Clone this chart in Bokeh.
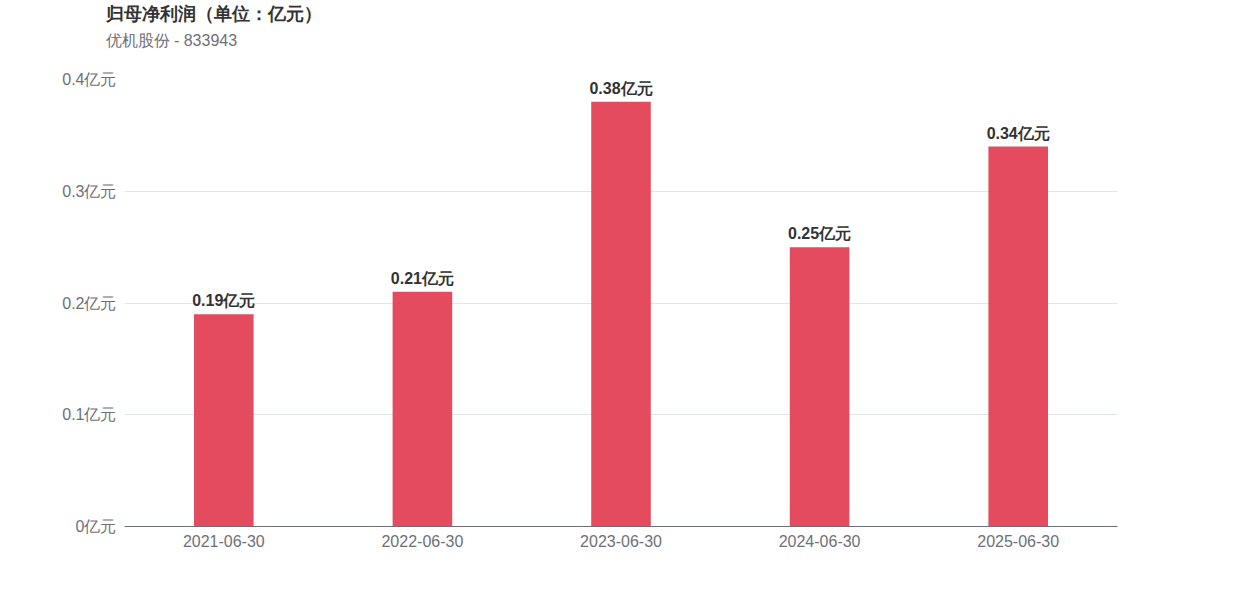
from bokeh.plotting import figure
from bokeh.models import FixedTicker, Title, ColumnDataSource, LabelSet
from bokeh.core.properties import value
from bokeh.embed import file_html
from bokeh.resources import INLINE

# Net profit attributable to parent company (unit: 100 million yuan)
periods = ["2021-06-30", "2022-06-30", "2023-06-30", "2024-06-30", "2025-06-30"]
profits = [0.19, 0.21, 0.38, 0.25, 0.34]
y_ticks = [0, 0.1, 0.2, 0.3, 0.4]
y_tick_labels = ["0亿元", "0.1亿元", "0.2亿元", "0.3亿元", "0.4亿元"]

FONT = "Liberation Sans"

source = ColumnDataSource(dict(
    period=periods,
    profit=profits,
    label=[f"{v:.2f}亿元" for v in profits],
))

p = figure(
    x_range=periods, y_range=(0, 0.4),
    width=1242, height=596,
    output_backend="svg", toolbar_location=None,
    min_border_left=124, min_border_right=125,
    min_border_top=79, min_border_bottom=70,
)
p.outline_line_color = None
p.background_fill_color = "white"
p.border_fill_color = "white"
p.x_range.range_padding = 0

p.vbar(x="period", top="profit", width=0.3, source=source,
       fill_color="#e54b5e", line_color=None)

p.add_layout(LabelSet(x="period", y="profit", text="label", source=source,
                      text_align="center", text_baseline="bottom", y_offset=5,
                      text_font=value(FONT), text_font_size="16px",
                      text_font_style="bold", text_color="#333333"))

# axes
p.yaxis.ticker = FixedTicker(ticks=y_ticks)
p.yaxis.major_label_overrides = {t: s for t, s in zip(y_ticks, y_tick_labels)}
p.yaxis.axis_line_color = None
p.yaxis.major_tick_line_color = None
p.yaxis.major_tick_out = 0
p.yaxis.major_tick_in = 0
p.yaxis.minor_tick_line_color = None
p.yaxis.major_label_standoff = 8
p.yaxis.major_label_text_font = FONT
p.yaxis.major_label_text_font_size = "16px"
p.yaxis.major_label_text_color = "#6e7079"

p.xaxis.axis_line_color = "#6e7079"
p.xaxis.axis_line_width = 1
p.xaxis.major_tick_line_color = None
p.xaxis.major_tick_out = 0
p.xaxis.major_tick_in = 0
p.xaxis.minor_tick_line_color = None
p.xaxis.major_label_standoff = 8
p.xaxis.major_label_text_font = FONT
p.xaxis.major_label_text_font_size = "16px"
p.xaxis.major_label_text_color = "#6e7079"

p.xgrid.grid_line_color = None
p.ygrid.grid_line_color = "#e0e6f1"

# titles, stacked outward from the plot area: blank spacer, subtitle, title
p.add_layout(Title(text=" ", text_font_size="10px", standoff=13), "above")
p.add_layout(Title(text="优机股份 - 833943", align="left", offset=-19,
                   text_font=FONT, text_font_size="16px",
                   text_font_style="normal", text_color="#6e7079",
                   standoff=10), "above")
p.add_layout(Title(text="归母净利润（单位：亿元）", align="left", offset=-19,
                   text_font=FONT, text_font_size="18px",
                   text_font_style="bold", text_color="#333333",
                   standoff=1), "above")

open("out.html", "w").write(file_html(p, INLINE))
